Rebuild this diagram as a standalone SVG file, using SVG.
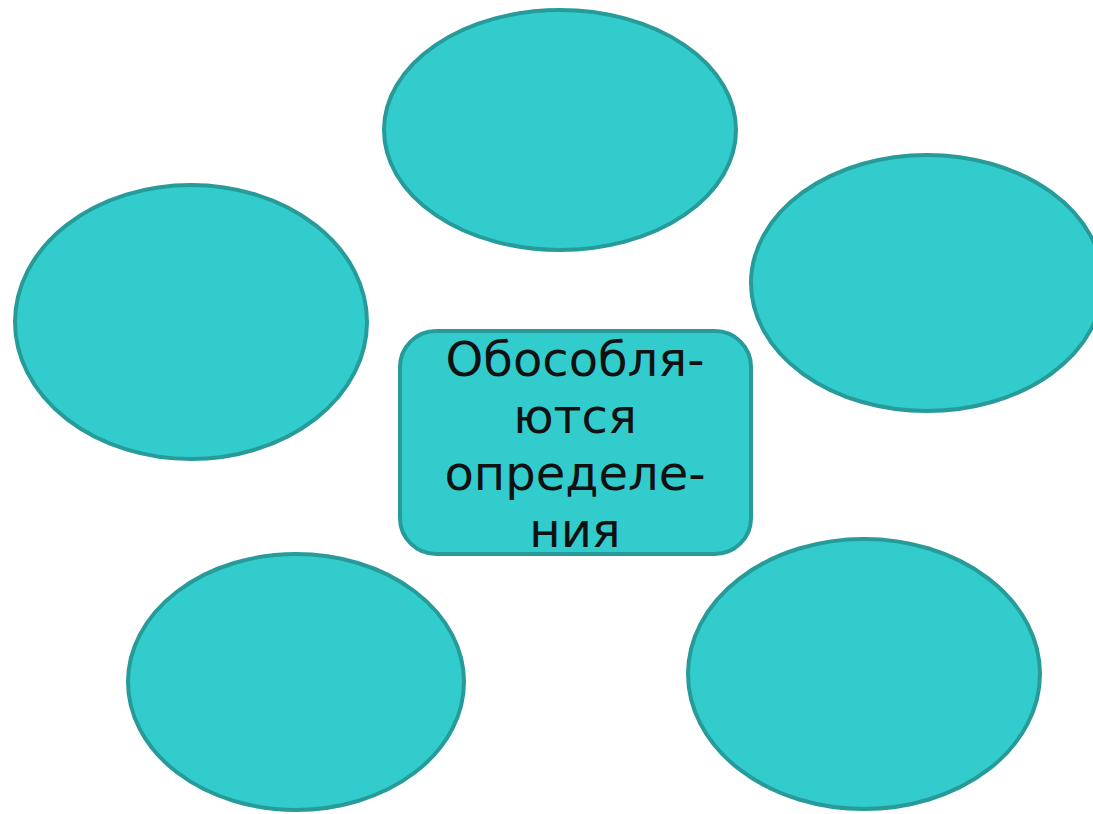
<svg xmlns="http://www.w3.org/2000/svg" width="1093" height="814" viewBox="0 0 1093 814">
<style>
.n{fill:#33cccc;stroke:#269b99;stroke-width:4}
.t{font-family:"DejaVu Sans",Verdana,sans-serif;font-size:48px;fill:#111;text-anchor:middle}
</style>
<rect width="1093" height="814" fill="#fff"/>
<g id="connectors"></g>
<g id="top"><ellipse class="n" cx="560" cy="130" rx="176" ry="120"/></g>
<g id="left"><ellipse class="n" cx="191" cy="322" rx="176" ry="137"/></g>
<g id="right"><ellipse class="n" cx="927" cy="283" rx="176" ry="128"/></g>
<g id="bottom-left"><ellipse class="n" cx="296" cy="682" rx="168" ry="128"/></g>
<g id="bottom-right"><ellipse class="n" cx="864" cy="674" rx="176" ry="135"/></g>
<g id="center">
<rect class="n" x="400" y="331" width="351" height="223" rx="36"/>
<text class="t" x="575" y="376">Обособля-</text>
<text class="t" x="575" y="433">ются</text>
<text class="t" x="575" y="490">определе-</text>
<text class="t" x="575" y="547">ния</text>
</g>
</svg>
